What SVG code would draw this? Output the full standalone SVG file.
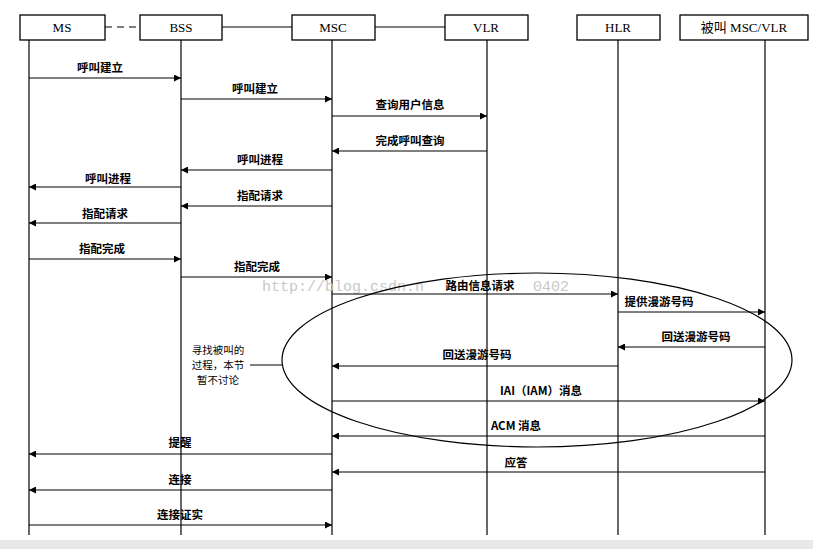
<svg xmlns="http://www.w3.org/2000/svg" width="813" height="549" viewBox="0 0 813 549">
<style>
.box{fill:#fff;stroke:#000;stroke-width:1.3}
.t{font-family:"Liberation Serif","Noto Sans CJK SC",serif;font-size:13px;text-anchor:middle;fill:#000}
.m{font-family:"Noto Sans CJK SC",sans-serif;font-size:11.5px;font-weight:bold;text-anchor:middle;fill:#000}
.n{font-family:"Noto Sans CJK SC",sans-serif;font-size:10.5px;text-anchor:middle;fill:#000}
.w{font-family:"Liberation Mono",monospace;font-size:15px;fill:#c8c8c8}
.life{stroke:#000;stroke-width:1.2}
.c line{stroke:#000;stroke-width:1.2;marker-end:url(#a)}
</style>
<defs><marker id="a" viewBox="0 0 10 10" refX="10" refY="5" markerWidth="9" markerHeight="7" orient="auto" markerUnits="userSpaceOnUse"><path d="M0,0L10,5L0,10z" fill="#000"/></marker></defs>
<rect width="813" height="549" fill="#fff"/>
<rect y="540" width="813" height="9" fill="#e8e8e8"/>
<g id="links" stroke="#000" stroke-width="1.2">
<line x1="105" y1="27" x2="140" y2="27" stroke-dasharray="7,5"/>
<line x1="222" y1="27" x2="292" y2="27"/>
<line x1="375" y1="27" x2="445" y2="27"/>
</g>
<g id="lifelines">
<line class="life" x1="29" y1="40" x2="29" y2="535"/>
<line class="life" x1="181" y1="40" x2="181" y2="535"/>
<line class="life" x1="332" y1="40" x2="332" y2="535"/>
<line class="life" x1="487" y1="40" x2="487" y2="535"/>
<line class="life" x1="618" y1="40" x2="618" y2="535"/>
<line class="life" x1="765" y1="40" x2="765" y2="535"/>
</g>
<g id="MS"><rect class="box" x="20" y="15" width="85" height="25"/><text class="t" x="62" y="32">MS</text></g>
<g id="BSS"><rect class="box" x="140" y="15" width="82" height="25"/><text class="t" x="181" y="32">BSS</text></g>
<g id="MSC"><rect class="box" x="292" y="15" width="83" height="25"/><text class="t" x="333" y="32">MSC</text></g>
<g id="VLR"><rect class="box" x="445" y="15" width="83" height="25"/><text class="t" x="486" y="32">VLR</text></g>
<g id="HLR"><rect class="box" x="577" y="15" width="83" height="25"/><text class="t" x="618" y="32">HLR</text></g>
<g id="CALLED"><rect class="box" x="680" y="15" width="128" height="25"/><text class="t" x="744" y="32">被叫 MSC/VLR</text></g>
<text class="w" x="262" y="291">http://blog.csdn.n</text>
<text class="w" x="533" y="291">0402</text>
<g id="note">
<ellipse cx="537" cy="360" rx="255" ry="87" fill="none" stroke="#000" stroke-width="1.2"/>
<line x1="250" y1="365" x2="283" y2="365" stroke="#000" stroke-width="1.2"/>
<text class="n" x="218" y="354">寻找被叫的</text>
<text class="n" x="218" y="369">过程，本节</text>
<text class="n" x="218" y="384">暂不讨论</text>
</g>
<g id="connectors" class="c">
<line x1="29" y1="78" x2="181" y2="78"/>
<line x1="181" y1="99" x2="332" y2="99"/>
<line x1="332" y1="116" x2="487" y2="116"/>
<line x1="487" y1="151" x2="332" y2="151"/>
<line x1="332" y1="170" x2="181" y2="170"/>
<line x1="181" y1="187" x2="29" y2="187"/>
<line x1="332" y1="206" x2="181" y2="206"/>
<line x1="181" y1="223" x2="29" y2="223"/>
<line x1="29" y1="259" x2="181" y2="259"/>
<line x1="181" y1="277" x2="332" y2="277"/>
<line x1="332" y1="294" x2="618" y2="294"/>
<line x1="618" y1="312" x2="765" y2="312"/>
<line x1="765" y1="347" x2="618" y2="347"/>
<line x1="618" y1="366" x2="332" y2="366"/>
<line x1="332" y1="401" x2="765" y2="401"/>
<line x1="765" y1="436" x2="332" y2="436"/>
<line x1="332" y1="454" x2="29" y2="454"/>
<line x1="765" y1="472" x2="332" y2="472"/>
<line x1="332" y1="490" x2="29" y2="490"/>
<line x1="29" y1="525" x2="332" y2="525"/>
</g>
<g id="labels">
<text class="m" x="100" y="72">呼叫建立</text>
<text class="m" x="255" y="93">呼叫建立</text>
<text class="m" x="410" y="109">查询用户信息</text>
<text class="m" x="410" y="145">完成呼叫查询</text>
<text class="m" x="260" y="164">呼叫进程</text>
<text class="m" x="108" y="183">呼叫进程</text>
<text class="m" x="260" y="200">指配请求</text>
<text class="m" x="105" y="218">指配请求</text>
<text class="m" x="102" y="253">指配完成</text>
<text class="m" x="257" y="271">指配完成</text>
<text class="m" x="480" y="290">路由信息请求</text>
<text class="m" x="659" y="306">提供漫游号码</text>
<text class="m" x="696" y="341">回送漫游号码</text>
<text class="m" x="477" y="359">回送漫游号码</text>
<text class="m" x="541" y="395">IAI（IAM）消息</text>
<text class="m" x="516" y="430">ACM 消息</text>
<text class="m" x="180" y="447">提醒</text>
<text class="m" x="516" y="467">应答</text>
<text class="m" x="180" y="484">连接</text>
<text class="m" x="180" y="519">连接证实</text>
</g>
</svg>
